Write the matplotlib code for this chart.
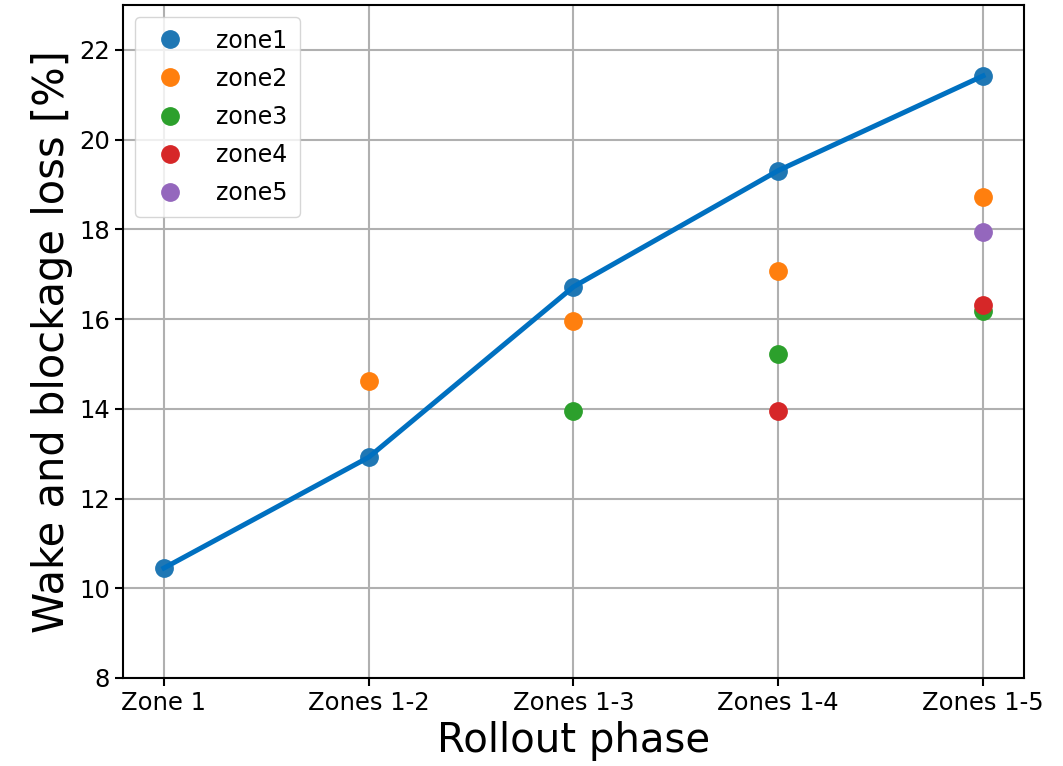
import numpy as np
import matplotlib
matplotlib.use("Agg")
import matplotlib.pyplot as plt

nan = np.nan
phases = ["Zone 1", "Zones 1-2", "Zones 1-3", "Zones 1-4", "Zones 1-5"]
zone1 = [10.45, 12.92, 16.72, 19.31, 21.42]
zone2 = [nan, 14.61, 15.95, 17.06, 18.71]
zone3 = [nan, nan, 13.94, 15.23, 16.17]
zone4 = [nan, nan, nan, 13.94, 16.32]
zone5 = [nan, nan, nan, nan, 17.95]
zone_names = ["zone1", "zone2", "zone3", "zone4", "zone5"]

fig = plt.figure(figsize=(10.63, 7.66), dpi=100)
ax = fig.add_axes([0.1157, 0.1149, 0.8476, 0.8786])

x = np.arange(len(phases))
for vals, name in zip([zone1, zone2, zone3, zone4, zone5], zone_names):
    ax.plot(x, vals, 'o', markersize=12.5, label=name, zorder=3)

# trend line over zone1
ax.plot(x, zone1, '-', color='#0070C0', lw=3.6, zorder=4)

ax.set_xticks(x)
ax.set_xticklabels(phases)
ax.set_ylim(8, 23)
ax.set_yticks(range(8, 23, 2))
ax.tick_params(labelsize=17.5, width=1.5, length=6)
ax.grid(True, color='#b0b0b0', lw=1.5)
for s in ax.spines.values():
    s.set_linewidth(1.5)

ax.set_xlabel("Rollout phase", fontsize=29)
ax.set_ylabel("Wake and blockage loss [%]", fontsize=30)
ax.legend(loc='upper left', fontsize=17, handletextpad=0.95, labelspacing=0.6, borderpad=0.5)

fig.savefig("out.png", dpi=100)
